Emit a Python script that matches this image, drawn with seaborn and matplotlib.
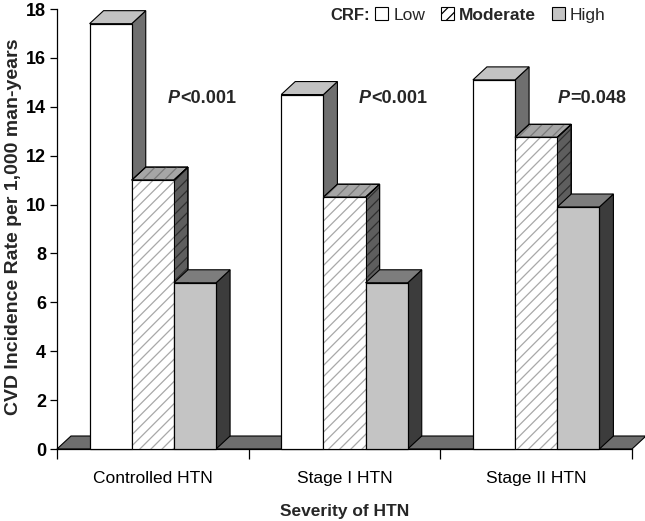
import numpy as np
import pandas as pd
import seaborn as sns
import matplotlib.pyplot as plt
from matplotlib.patches import Polygon, Rectangle, Patch

categories = ["Controlled HTN", "Stage I HTN", "Stage II HTN"]
crf_levels = ["Low", "Moderate", "High"]
low = [17.4, 14.5, 15.1]
moderate = [11.0, 10.3, 12.75]
high = [6.8, 6.8, 9.9]
p_prefix = ["P", "P", "P"]
p_suffix = ["<0.001", "<0.001", "=0.048"]
y_ticks = [0, 2, 4, 6, 8, 10, 12, 14, 16, 18]

df = pd.DataFrame({
    "severity": categories * 3,
    "crf": [crf_levels[0]] * 3 + [crf_levels[1]] * 3 + [crf_levels[2]] * 3,
    "rate": low + moderate + high,
})

sns.set_theme(style="white")
FONT = ["Liberation Sans", "DejaVu Sans"]
plt.rcParams["font.family"] = FONT
plt.rcParams["hatch.linewidth"] = 0.9
plt.rcParams["hatch.color"] = "#a8a8a8"

front = {"Low": "#ffffff", "Moderate": "#ffffff", "High": "#c4c4c4"}
side = {"Low": "#6f6f6f", "Moderate": "#5e5e5e", "High": "#3c3c3c"}
top = {"Low": "#c2c2c2", "Moderate": "#a6a6a6", "High": "#7d7d7d"}

W, H = 645, 521
L, R, B, T = 57, 632, 449, 9
fig = plt.figure(figsize=(W / 100, H / 100), dpi=100)
ax = fig.add_axes([L / W, 1 - B / H, (R - L) / W, (B - T) / H])

sns.barplot(data=df, x="severity", y="rate", hue="crf", order=categories,
            hue_order=crf_levels, palette=front, width=0.66, saturation=1,
            edgecolor="black", linewidth=0.8, ax=ax, legend=False)
ax.set_xlim(-0.5, 2.5)
ax.set_ylim(0, 18)

dx = 14 / ((R - L) / 3)
dy = 13 / ((B - T) / 18)

# floor
ax.add_patch(Polygon([(-0.5, 0), (-0.5 + dx, dy), (2.5 + dx, dy), (2.5, 0)],
                     closed=True, facecolor="#6e6e6e", edgecolor="black",
                     linewidth=0.8, zorder=2, clip_on=False))

bars = sorted([p for p in ax.patches if isinstance(p, Rectangle) and p.get_height() > 0],
              key=lambda p: p.get_x())
for k, p in enumerate(bars):
    lvl = crf_levels[k % 3]
    x0, w, h = p.get_x(), p.get_width(), p.get_height()
    z = 10 + 3 * k
    hatch = "///" if lvl == "Moderate" else None
    sp = Polygon([(x0 + w, 0), (x0 + w + dx, dy), (x0 + w + dx, h + dy), (x0 + w, h)],
                 closed=True, facecolor=side[lvl], edgecolor="black", linewidth=0.8,
                 zorder=z, clip_on=False)
    tp = Polygon([(x0, h), (x0 + dx, h + dy), (x0 + w + dx, h + dy), (x0 + w, h)],
                 closed=True, facecolor=top[lvl], edgecolor="black", linewidth=0.8,
                 zorder=z, clip_on=False)
    ax.add_patch(sp)
    ax.add_patch(tp)
    if hatch:
        for poly, c in ((sp, "#2e2e2e"), (tp, "#7a7a7a")):
            ax.add_patch(Polygon(poly.get_xy(), closed=True, facecolor="none",
                                 edgecolor=c, hatch=hatch, linewidth=0,
                                 zorder=z + 0.5, clip_on=False))
            ax.add_patch(Polygon(poly.get_xy(), closed=True, facecolor="none",
                                 edgecolor="black", linewidth=0.8,
                                 zorder=z + 0.6, clip_on=False))
        p.set_hatch(hatch)
        p.set_edgecolor("#a8a8a8")
    p.set_zorder(z + 1)
    p.set_clip_on(False)
    ax.add_patch(Rectangle((x0, 0), w, h, facecolor="none", edgecolor="black",
                           linewidth=0.8, zorder=z + 1.5, clip_on=False))

sns.despine(ax=ax, top=True, right=True)
ax.spines["left"].set_linewidth(0.9)
ax.spines["bottom"].set_linewidth(0.9)
ax.spines["left"].set_color("black")
ax.spines["bottom"].set_color("black")

ax.set_yticks(y_ticks)
ax.set_yticklabels([str(v) for v in y_ticks], fontsize=13, fontweight="bold")
ax.tick_params(axis="y", direction="out", length=5, width=0.9, left=True, pad=3, colors="black")
ax.set_xticks([0, 1, 2])
ax.set_xticklabels(categories, fontsize=12.5)
ax.set_xticks([-0.5, 0.5, 1.5, 2.5], minor=True)
ax.tick_params(axis="x", which="major", length=0, pad=16, colors="black")
ax.tick_params(axis="x", which="minor", length=7, width=0.9, bottom=True, direction="out", colors="black")

ax.set_xlabel("Severity of HTN", fontsize=12.5, fontweight="bold")
ax.xaxis.set_label_coords(0.5, -(504 - B) / (B - T))
ax.xaxis.label.set_va("top")
ax.set_ylabel("CVD Incidence Rate per 1,000 man-years", fontsize=14, fontweight="bold")
ax.yaxis.set_label_coords(-(57 - 22) / (R - L), 0.505)

p_x = [0.142, 1.138, 2.176]
for xp, pre, suf in zip(p_x, p_prefix, p_suffix):
    ax.text(xp, 14.35, pre, fontsize=13, fontweight="bold", fontstyle="italic",
            ha="right", va="center", zorder=60)
    ax.text(xp, 14.35, suf, fontsize=13, fontweight="bold", ha="left", va="center", zorder=60)

fig.text(330 / W, 1 - 15 / H, "CRF:", fontsize=12, fontweight="bold", ha="left", va="center")
handles = [Patch(facecolor=front[l], edgecolor="black", linewidth=0.8,
                 hatch="///" if l == "Moderate" else None) for l in crf_levels]
leg = fig.legend(handles, crf_levels, loc="center left", bbox_to_anchor=(375 / W, 1 - 15 / H),
                 ncol=3, frameon=False, fontsize=12.5, handlelength=0.75, handleheight=0.75,
                 handletextpad=0.3, columnspacing=0.9, borderpad=0, borderaxespad=0)
for t in leg.get_texts()[1:2]:
    t.set_fontweight("bold")

fig.savefig("out.png", dpi=100)
